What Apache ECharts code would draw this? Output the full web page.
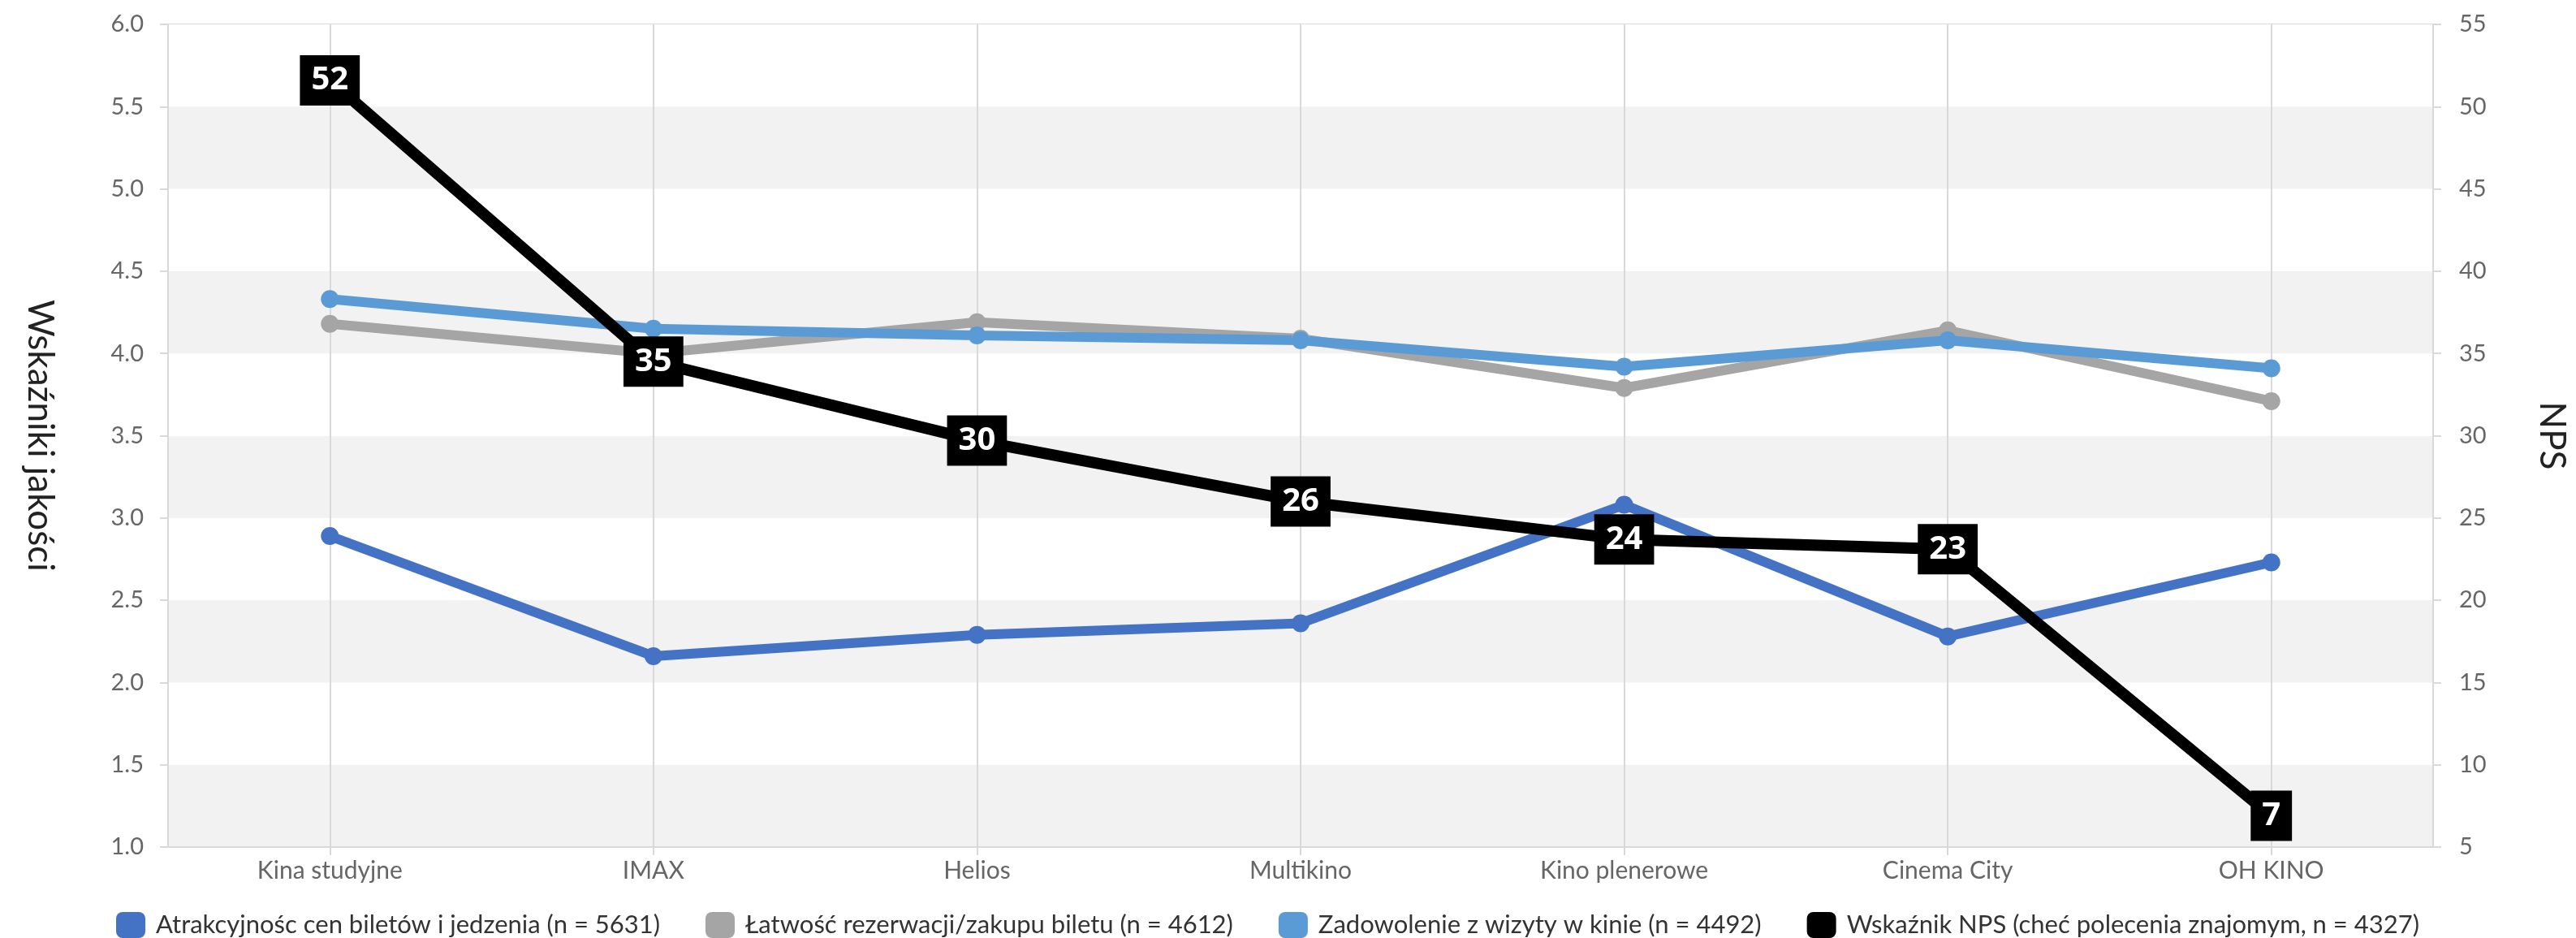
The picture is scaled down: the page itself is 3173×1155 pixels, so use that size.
<!DOCTYPE html>
<html>
<head>
<meta charset="utf-8">
<script src="https://cdn.jsdelivr.net/npm/echarts@6/dist/echarts.min.js"></script>
<style>
html,body{margin:0;padding:0;background:#fff;}
#chart{width:3173px;height:1155px;}
</style>
</head>
<body>
<div id="chart"></div>
<script>
var categories = ['Kina studyjne', 'IMAX', 'Helios', 'Multikino', 'Kino plenerowe', 'Cinema City', 'OH KINO'];
var seriesNames = [
  'Atrakcyjnośc cen biletów i jedzenia (n = 5631)',
  'Łatwość rezerwacji/zakupu biletu (n = 4612)',
  'Zadowolenie z wizyty w kinie (n = 4492)',
  'Wskaźnik NPS (cheć polecenia znajomym, n = 4327)'
];
var atrakcyjnosc = [2.89, 2.16, 2.29, 2.36, 3.08, 2.28, 2.73];
var latwosc = [4.18, 4.00, 4.19, 4.09, 3.79, 4.14, 3.71];
var zadowolenie = [4.33, 4.15, 4.11, 4.08, 3.92, 4.08, 3.91];
var nps = [51.6, 34.5, 29.7, 26.0, 23.7, 23.1, 6.9];
var leftTicks = {min: 1, max: 6, interval: 0.5};
var rightTicks = {min: 5, max: 55, interval: 5};

var colors = ['#4472C4', '#A5A5A5', '#5B9BD5', '#000000'];
var lineColor = '#d9d9d9';
var labelColor = '#666666';
var font = 'Lato';

function lineSeries(name, data, color) {
  return {
    name: name, type: 'line', data: data, yAxisIndex: 0,
    symbol: 'circle', symbolSize: 22,
    lineStyle: {width: 12, color: color},
    itemStyle: {color: color},
    emphasis: {disabled: true}
  };
}

var chart = echarts.init(document.getElementById('chart'), null, {renderer: 'canvas'});
chart.setOption({
  animation: false,
  backgroundColor: '#ffffff',
  color: colors,
  grid: {left: 207, right: 174, top: 30, bottom: 112, show: true, borderColor: lineColor, borderWidth: 2, backgroundColor: 'transparent'},
  legend: {
    left: 138, top: 1118,
    itemWidth: 36, itemHeight: 32, itemGap: 56,
    icon: 'roundRect',
    textStyle: {fontFamily: font, fontSize: 31, color: '#333333', padding: [0, 0, 0, 8]},
    data: seriesNames
  },
  xAxis: {
    type: 'category', data: categories, boundaryGap: true,
    axisLine: {show: true, lineStyle: {color: lineColor, width: 2}},
    axisTick: {show: true, alignWithLabel: true, length: 10, lineStyle: {color: lineColor, width: 2}},
    splitLine: {show: true, alignWithLabel: true, lineStyle: {color: lineColor, width: 2}},
    axisLabel: {fontFamily: font, fontSize: 30, color: labelColor, margin: 14}
  },
  yAxis: [
    {
      type: 'value', position: 'left', min: leftTicks.min, max: leftTicks.max, interval: leftTicks.interval,
      name: 'Wskaźniki jakości', nameLocation: 'middle', nameRotate: -90, nameGap: 136,
      nameTextStyle: {fontFamily: font, fontSize: 44, color: '#222222'},
      axisLine: {show: true, lineStyle: {color: lineColor, width: 2}},
      axisTick: {show: true, length: 10, lineStyle: {color: lineColor, width: 2}},
      splitLine: {show: false},
      splitArea: {show: true, areaStyle: {color: ['#f2f2f2', '#ffffff']}},
      axisLabel: {fontFamily: font, fontSize: 29, color: labelColor, margin: 30,
        formatter: function (v) { return v.toFixed(1); }}
    },
    {
      type: 'value', position: 'right', min: rightTicks.min, max: rightTicks.max, interval: rightTicks.interval,
      name: 'NPS', nameLocation: 'middle', nameRotate: -90, nameGap: 124,
      nameTextStyle: {fontFamily: font, fontSize: 44, color: '#222222'},
      axisLine: {show: true, lineStyle: {color: lineColor, width: 2}},
      axisTick: {show: true, length: 10, lineStyle: {color: lineColor, width: 2}},
      splitLine: {show: false},
      axisLabel: {fontFamily: font, fontSize: 29, color: labelColor, margin: 32}
    }
  ],
  series: [
    lineSeries(seriesNames[0], atrakcyjnosc, colors[0]),
    lineSeries(seriesNames[1], latwosc, colors[1]),
    lineSeries(seriesNames[2], zadowolenie, colors[2]),
    {
      name: seriesNames[3], type: 'line', data: nps, yAxisIndex: 1,
      symbol: 'circle', symbolSize: 12,
      lineStyle: {width: 14, color: '#000000'},
      itemStyle: {color: '#000000'},
      emphasis: {disabled: true},
      z: 5,
      label: {
        show: true, position: 'inside',
        formatter: function (p) { return Math.round(p.value); },
        backgroundColor: '#000000', color: '#ffffff',
        fontFamily: 'Open Sans', fontWeight: 'bold', fontSize: 40, lineHeight: 38,
        padding: [12, 14, 12, 14]
      }
    }
  ]
});
</script>
</body>
</html>
